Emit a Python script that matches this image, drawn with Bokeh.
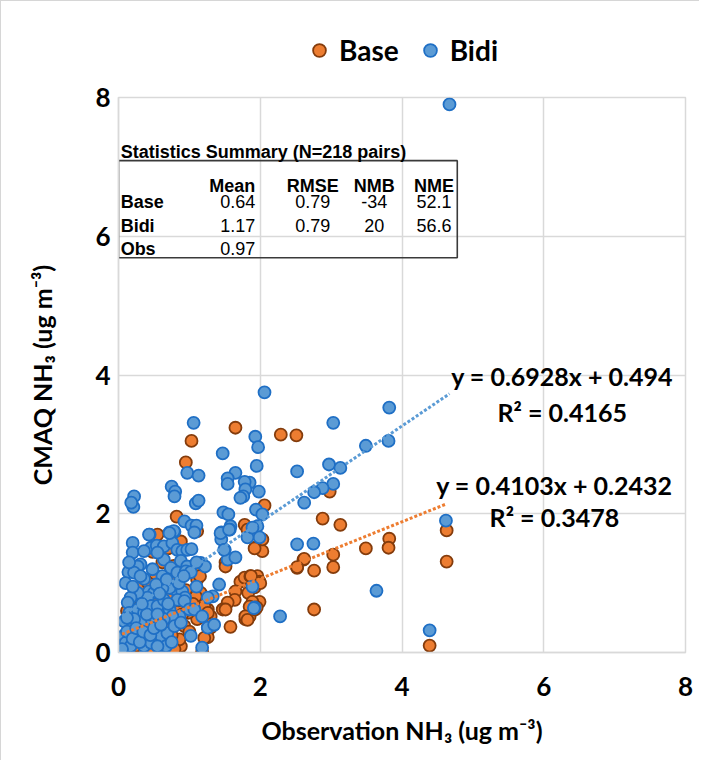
from bokeh.plotting import figure
from bokeh.layouts import column
from bokeh.models import Legend, FixedTicker, Range1d
from bokeh.core.properties import value
from bokeh.embed import file_html
from bokeh.resources import INLINE

# ---------------- data ----------------
base_x = [1.65, 1.03, 0.95, 0.82, 0.55, 1.78, 1.93, 2.03, 1.51, 1.51, 2.52, 2.61, 1.58,
          1.72, 1.78, 1.86, 1.96, 1.99, 1.92, 1.83, 1.65, 1.64, 1.54, 1.47, 1.51, 1.26,
          1.21, 1.30, 1.26, 1.30, 1.26, 1.18, 1.85, 1.79, 1.93, 1.99, 1.89, 1.85, 1.79, 1.95,
          2.29, 2.51, 2.06, 2.98, 2.88, 3.13, 3.82, 3.81, 3.49, 4.63, 4.63, 2.62, 2.52, 2.76,
          3.03, 3.03, 2.76, 4.39, 2.03, 1.92, 2.00, 1.87, 1.82, 1.82,
          1.11, 0.83, 0.74, 1.07, 1.11, 1.16, 1.09, 1.21, 1.26, 1.11, 1.21, 0.88, 0.86, 0.79,
          0.60, 0.45, 0.17, 0.10, 0.27, 0.74, 0.93, 0.98, 0.83, 0.69, 0.53, 0.64, 0.41,
          0.05, 0.10, 0.15, 0.20, 0.25, 0.30, 0.35, 0.40, 0.45, 0.50, 0.55, 0.60, 0.65, 0.70,
          0.75, 0.80, 0.85, 0.90, 0.95, 1.00, 1.05, 0.12, 0.22, 0.32, 0.42, 0.62, 0.78, 0.92,
          1.15, 0.48, 0.70, 0.88]
base_y = [3.24, 3.05, 2.74, 1.96, 1.70, 1.84, 1.51, 1.46, 1.30, 1.24, 1.22, 1.34, 0.37,
          1.02, 1.08, 1.10, 1.10, 1.02, 0.94, 0.86, 0.88, 0.76, 0.72, 0.62, 0.62, 0.62,
          0.52, 0.52, 0.36, 0.36, 0.22, 0.01, 0.52, 0.48, 0.62, 0.73, 0.73, 0.66, 0.52, 0.65,
          3.14, 3.13, 2.12, 2.32, 1.93, 1.84, 1.64, 1.51, 1.50, 1.76, 1.31, 1.35, 1.23, 1.18,
          1.41, 1.23, 0.62, 0.10, 1.63, 1.50, 1.00, 1.10, 1.77, 0.47,
          1.75, 1.05, 1.17, 1.20, 1.05, 0.86, 0.81, 0.67, 0.57, 0.48, 0.21, 0.09, 0.19, 0.05,
          0.04, 0.04, 0.02, 0.08, 0.04, 0.38, 0.38, 0.57, 0.62, 0.95, 1.10, 1.05, 0.95,
          0.10, 0.20, 0.35, 0.50, 0.10, 0.30, 0.45, 0.20, 0.60, 0.30, 0.75, 0.15, 0.50, 0.85,
          0.25, 0.40, 0.75, 0.55, 0.90, 0.30, 0.70, 0.60, 0.80, 0.95, 1.00, 1.30, 1.25, 1.15,
          1.10, 1.45, 1.50, 1.60]

bidi_x = [4.67, 2.06, 3.82, 3.03, 1.93, 1.97, 3.49, 3.81, 1.95, 2.52, 2.97, 3.13, 3.03,
          2.88, 2.76, 2.62, 1.98, 1.85, 1.94, 2.03, 1.96, 1.99, 2.52, 2.75, 4.62, 3.64, 1.89,
          1.92, 2.28, 4.39,
          1.06, 1.47, 0.97, 1.13, 1.65, 1.54, 1.54, 1.78, 1.79, 1.76, 1.72, 0.75, 0.80, 0.79,
          1.09, 1.13, 0.22, 0.21, 0.18, 1.48, 1.55, 0.93, 1.03, 1.10, 1.07, 0.79, 0.72, 0.44,
          1.58, 1.45, 1.45, 1.57, 1.50, 1.54, 1.65, 1.82, 1.89,
          0.43, 0.20, 0.20, 0.14, 0.46, 0.54, 0.64, 0.76, 0.78, 0.72, 0.83, 0.90, 0.97, 1.03,
          0.88, 0.64, 0.55, 0.36, 0.31, 0.27, 0.22, 0.36, 0.31, 0.43, 0.50, 0.62, 0.74, 0.83,
          0.97, 0.95, 1.16, 1.22, 1.02, 0.79, 0.90, 0.94, 0.72, 0.62, 0.53, 0.41, 0.27, 0.17,
          0.13, 0.15, 0.08, 0.07, 0.10, 0.27, 0.36, 0.46, 0.55, 0.64, 0.72, 0.83, 0.93, 1.00,
          1.07, 0.86, 0.76, 0.64, 0.50, 0.41, 0.31, 0.22, 0.17, 0.27, 0.36, 0.46, 0.60, 0.69,
          0.79, 0.88, 1.02, 1.18, 1.26, 1.35, 1.18, 0.67, 0.55, 0.17, 1.91, 1.42, 1.33, 1.26,
          1.49, 1.44, 1.56,
          0.05, 0.12, 0.20, 0.25, 0.30, 0.35, 0.40, 0.45, 0.50, 0.55, 0.60, 0.70, 0.75, 0.10,
          0.15, 0.20, 0.33, 0.48, 0.58, 0.68, 0.85, 0.92, 1.10, 1.10, 0.12]
bidi_y = [7.90, 3.75, 3.53, 3.31, 3.11, 2.96, 2.98, 3.05, 2.69, 2.61, 2.71, 2.66, 2.43,
          2.37, 2.31, 2.16, 2.32, 2.45, 2.06, 1.99, 1.82, 1.66, 1.56, 1.57, 1.90, 0.89, 0.95,
          0.65, 0.52, 0.32,
          3.31, 2.87, 2.59, 2.55, 2.59, 2.51, 2.43, 2.46, 2.35, 2.25, 2.23, 2.39, 2.32, 2.25,
          2.15, 2.19, 2.25, 2.10, 2.16, 2.02, 1.99, 1.89, 1.83, 1.83, 1.73, 1.74, 1.73, 1.70,
          1.82, 1.73, 1.63, 1.77, 1.48, 1.34, 1.37, 1.66, 1.80,
          1.70, 1.58, 1.44, 1.16, 1.51, 1.54, 1.53, 1.58, 1.75, 1.72, 1.48, 1.46, 1.48, 1.49,
          1.32, 1.34, 1.44, 1.46, 1.27, 1.24, 1.15, 1.06, 1.10, 0.88, 0.86, 1.10, 1.22, 1.15,
          1.24, 1.17, 1.29, 1.24, 1.16, 0.91, 0.88, 0.79, 0.93, 0.93, 0.98, 0.79, 0.86, 0.79,
          0.72, 0.57, 0.45, 0.24, 0.14, 0.62, 0.57, 0.67, 0.67, 0.76, 0.62, 0.76, 0.74, 0.62,
          0.62, 0.52, 0.52, 0.48, 0.48, 0.38, 0.43, 0.48, 0.33, 0.19, 0.09, 0.14, 0.24, 0.28,
          0.38, 0.43, 0.24, 0.52, 0.36, 0.40, 0.07, 0.09, 0.09, 0.09, 0.64, 0.98, 0.81, 0.79,
          1.48, 1.72, 1.77,
          0.05, 0.30, 0.20, 0.35, 0.15, 0.30, 0.55, 0.25, 0.35, 0.55, 0.40, 0.70, 0.15, 1.00,
          1.30, 0.95, 0.70, 1.20, 0.85, 1.05, 1.00, 1.10, 0.95, 1.30, 0.50]

series_names = ["Base", "Bidi"]
fit_slope = [0.4103, 0.6928]
fit_intercept = [0.2432, 0.494]
fit_r2 = [0.3478, 0.4165]
fit_labels = ["y = 0.4103x + 0.2432", "y = 0.6928x + 0.494"]
r2_labels = ["R\u00b2 = 0.3478", "R\u00b2 = 0.4165"]

table_title = "Statistics  Summary  (N=218 pairs)"
table_cols = ["Mean", "RMSE", "NMB", "NME"]
table_rows = ["Base", "Bidi", "Obs"]
table_vals = [["0.64", "0.79", "-34", "52.1"],
              ["1.17", "0.79", "20", "56.6"],
              ["0.97", "", "", ""]]

ticks = [0, 2, 4, 6, 8]

# ---------------- styling ----------------
ORANGE = "#ED7D31"
ORANGE_EDGE = "#843C0C"
BLUE = "#5B9BD5"
BLUE_EDGE = "#1F6FC5"
GRID = "#d9d9d9"
FONT = "Lato"
TFONT = "Liberation Sans"
series_fill = [ORANGE, BLUE]
series_edge = [ORANGE_EDGE, BLUE_EDGE]

# ---------------- legend strip ----------------
LEG_H = 80
leg = figure(width=698, height=LEG_H, title=None, output_backend="svg", toolbar_location=None,
             x_range=Range1d(0, 1), y_range=Range1d(0, 1), min_border=0)
leg.axis.visible = False
leg.grid.visible = False
leg.outline_line_color = None
leg_items = []
for name, fc, lc in zip(series_names, series_fill, series_edge):
    # legend-only swatch renderer: its single point lies outside the strip's range
    rr = leg.scatter(x=[-5], y=[-5], size=12, fill_color=fc, line_color=lc, line_width=1.8)
    leg_items.append((name, [rr]))
legend = Legend(items=leg_items, location=(185, 14), orientation="horizontal",
                glyph_width=32, glyph_height=32, label_standoff=4, spacing=15,
                padding=0, margin=0, border_line_color=None, background_fill_alpha=0,
                label_text_font=FONT, label_text_font_style="bold",
                label_text_font_size="28px", label_text_color="black")
leg.add_layout(legend)

# ---------------- main plot ----------------
p = figure(frame_width=567, frame_height=555, title=None, output_backend="svg",
           toolbar_location=None, x_range=Range1d(0, 8), y_range=Range1d(0, 8),
           min_border_left=117, min_border_right=14, min_border_top=96 - LEG_H,
           min_border_bottom=108)

p.outline_line_color = GRID
p.outline_line_width = 1.5
for ax in (p.xaxis[0], p.yaxis[0]):
    ax.ticker = FixedTicker(ticks=ticks)
    ax.axis_line_color = GRID
    ax.axis_line_width = 1.5
    ax.major_tick_line_color = None
    ax.minor_tick_line_color = None
    ax.major_tick_in = 0
    ax.major_tick_out = 0
    ax.major_label_text_font = FONT
    ax.major_label_text_font_style = "bold"
    ax.major_label_text_font_size = "26px"
    ax.major_label_text_color = "black"
    ax.axis_label_text_font = FONT
    ax.axis_label_text_font_style = "bold"
    ax.axis_label_text_font_size = "25px"
    ax.axis_label_text_color = "black"

p.xaxis.axis_label = "Observation NH\u2083 (ug m\u207b\u00b3)"
p.yaxis.axis_label = "CMAQ NH\u2083 (ug m\u207b\u00b3)"
p.xaxis.major_label_standoff = 24
p.xaxis.axis_label_standoff = 16
p.yaxis.major_label_standoff = 8
p.yaxis.axis_label_standoff = 35

p.xgrid.grid_line_color = GRID
p.ygrid.grid_line_color = GRID
p.xgrid.grid_line_width = 1.5
p.ygrid.grid_line_width = 1.5
p.xgrid.ticker = FixedTicker(ticks=ticks)
p.ygrid.ticker = FixedTicker(ticks=ticks)

# ---------------- statistics table ----------------
box_left, box_right, box_top, box_bottom = 0.0, 4.78, 7.09, 5.69
p.quad(left=[box_left], right=[box_right], top=[box_top], bottom=[box_bottom],
       fill_alpha=0, line_color="#3a3a3a", line_width=1.6)
TSIZE = "18px"
p.text(x=[0.03], y=[7.22], text=[table_title], text_font=value(TFONT), text_font_style="bold",
       text_font_size=TSIZE, text_align="left", text_baseline="middle", text_color="black")
col_x = [1.93, 2.74, 3.61, 4.45]
col_align = ["right", "center", "center", "center"]
row_y = [6.50, 6.15, 5.82]
header_y = 6.72
for cx, ca, name in zip(col_x, col_align, table_cols):
    p.text(x=[cx], y=[header_y], text=[name], text_font=value(TFONT), text_font_style="bold",
           text_font_size=TSIZE, text_align=ca, text_baseline="middle", text_color="black")
for ry, rname, vals in zip(row_y, table_rows, table_vals):
    p.text(x=[0.03], y=[ry], text=[rname], text_font=value(TFONT), text_font_style="bold",
           text_font_size=TSIZE, text_align="left", text_baseline="middle", text_color="black")
    for cx, ca, v in zip(col_x, col_align, vals):
        if v:
            p.text(x=[cx], y=[ry], text=[v], text_font=value(TFONT),
                   text_font_size=TSIZE, text_align=ca, text_baseline="middle",
                   text_color="black")

# ---------------- points ----------------
p.scatter(base_x, base_y, size=12, fill_color=ORANGE, line_color=ORANGE_EDGE, line_width=1.8)
p.scatter(bidi_x, bidi_y, size=12, fill_color=BLUE, line_color=BLUE_EDGE, line_width=1.8)

# ---------------- trend lines ----------------
series_x = [base_x, bidi_x]
for xs, m, b, c in zip(series_x, fit_slope, fit_intercept, series_fill):
    x0, x1 = min(xs), max(xs)
    p.line([x0, x1], [m * x0 + b, m * x1 + b], line_color=c, line_width=3, line_dash="3 2")

eq_pos = [(6.15, 2.42, 1.95), (6.26, 3.98, 3.47)]
for (ex, ey, ry), eq, r2 in zip(eq_pos, fit_labels, r2_labels):
    p.text(x=[ex], y=[ey], text=[eq], text_font=value(FONT), text_font_style="bold",
           text_font_size="25px", text_align="center", text_baseline="middle",
           text_color="black")
    p.text(x=[ex], y=[ry], text=[r2], text_font=value(FONT), text_font_style="bold",
           text_font_size="25px", text_align="center", text_baseline="middle",
           text_color="black")

layout = column(leg, p, spacing=0,
                styles={"border-left": "1px solid #d6d6d6", "border-top": "1px solid #d6d6d6"})
open("out.html", "w").write(file_html(layout, INLINE))
